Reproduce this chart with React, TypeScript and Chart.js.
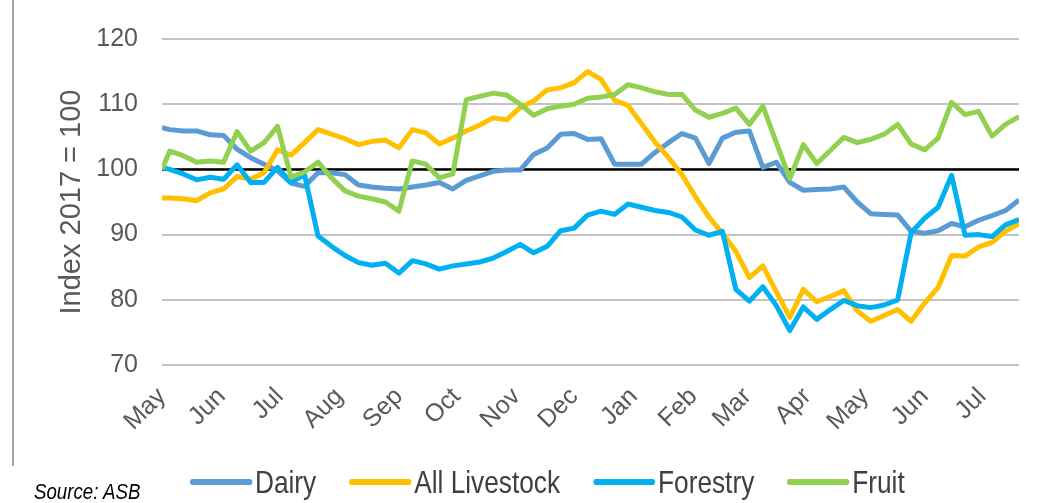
import React, { useEffect, useRef } from "react";
import { Chart, registerables } from "chart.js";

Chart.register(...registerables);

const weekDates = [
  "2017-05-01", "2017-05-05", "2017-05-12", "2017-05-19", "2017-05-26",
  "2017-06-02", "2017-06-09", "2017-06-16", "2017-06-23", "2017-06-30",
  "2017-07-07", "2017-07-14", "2017-07-21", "2017-07-28",
  "2017-08-04", "2017-08-11", "2017-08-18", "2017-08-25",
  "2017-09-01", "2017-09-08", "2017-09-15", "2017-09-22", "2017-09-29",
  "2017-10-06", "2017-10-13", "2017-10-20", "2017-10-27",
  "2017-11-03", "2017-11-10", "2017-11-17", "2017-11-24",
  "2017-12-01", "2017-12-08", "2017-12-15", "2017-12-22", "2017-12-29",
  "2018-01-05", "2018-01-12", "2018-01-19", "2018-01-26",
  "2018-02-02", "2018-02-09", "2018-02-16", "2018-02-23",
  "2018-03-02", "2018-03-09", "2018-03-16", "2018-03-23", "2018-03-30",
  "2018-04-06", "2018-04-13", "2018-04-20", "2018-04-27",
  "2018-05-04", "2018-05-11", "2018-05-18", "2018-05-25",
  "2018-06-01", "2018-06-08", "2018-06-15", "2018-06-22", "2018-06-29",
  "2018-07-06", "2018-07-13", "2018-07-20",
];

const dairy = [
  106.4, 106.1, 105.9, 105.9, 105.3, 105.2, 103.1, 101.8, 100.8, 99.8,
  97.9, 97.4, 99.5, 99.5, 99.2, 97.6, 97.3, 97.1, 97.0, 97.3,
  97.6, 98.0, 97.0, 98.3, 99.0, 99.7, 99.9, 99.9, 102.3, 103.3,
  105.4, 105.5, 104.6, 104.7, 100.8, 100.8, 100.8, 102.6, 104.1, 105.5,
  104.8, 100.9, 104.8, 105.7, 105.9, 100.3, 101.1, 98.0, 96.8, 96.9,
  97.0, 97.3, 95.0, 93.2, 93.1, 93.0, 90.5, 90.2, 90.6, 91.7,
  91.2, 92.2, 92.9, 93.7, 95.3,
];

const allLivestock = [
  95.6, 95.6, 95.5, 95.2, 96.4, 97.0, 98.9, 98.5, 99.5, 103.0,
  102.2, 104.1, 106.1, 105.4, 104.7, 103.8, 104.3, 104.5, 103.3, 106.1,
  105.6, 103.9, 104.8, 105.9, 106.8, 107.9, 107.6, 109.5, 110.5, 112.2,
  112.5, 113.3, 115.0, 113.8, 110.6, 109.8, 107.0, 104.2, 101.8, 99.2,
  95.8, 92.7, 90.2, 87.4, 83.4, 85.2, 81.2, 77.3, 81.6, 79.7,
  80.5, 81.4, 78.3, 76.7, 77.6, 78.5, 76.7, 79.5, 81.9, 86.8,
  86.7, 88.1, 88.8, 90.5, 91.7,
];

const forestry = [
  100.3, 100.0, 99.3, 98.4, 98.8, 98.5, 100.7, 98.0, 98.0, 100.3,
  98.0, 99.2, 89.8, 88.2, 86.8, 85.7, 85.3, 85.6, 84.1, 86.0,
  85.5, 84.7, 85.2, 85.5, 85.8, 86.4, 87.4, 88.5, 87.2, 88.2,
  90.6, 91.0, 93.0, 93.6, 93.1, 94.7, 94.2, 93.7, 93.4, 92.7,
  90.7, 89.9, 90.5, 81.6, 79.8, 82.0, 79.1, 75.3, 78.9, 77.0,
  78.5, 79.9, 79.1, 78.8, 79.2, 80.0, 90.3, 92.5, 94.2, 99.1,
  89.9, 90.0, 89.7, 91.5, 92.3,
];

const fruit = [
  100.0, 102.8, 102.1, 101.1, 101.3, 101.1, 105.8, 102.8, 104.1, 106.6,
  98.8, 99.6, 101.1, 98.7, 96.7, 95.9, 95.5, 95.0, 93.6, 101.3,
  100.8, 98.7, 99.3, 110.7, 111.2, 111.7, 111.4, 110.0, 108.3, 109.3,
  109.7, 110.0, 110.9, 111.1, 111.5, 113.0, 112.5, 111.9, 111.5, 111.5,
  109.1, 108.0, 108.6, 109.4, 106.9, 109.7, 104.1, 98.6, 103.8, 100.9,
  102.9, 104.9, 104.1, 104.6, 105.4, 106.9, 103.9, 103.0, 104.8, 110.3,
  108.4, 108.9, 105.1, 106.9, 108.1,
];

const baselineValue = 100;

const monthTicks = [
  "2017-05-01", "2017-06-01", "2017-07-01", "2017-08-01", "2017-09-01",
  "2017-10-01", "2017-11-01", "2017-12-01", "2018-01-01", "2018-02-01",
  "2018-03-01", "2018-04-01", "2018-05-01", "2018-06-01", "2018-07-01",
];
const monthLabels = [
  "May", "Jun", "Jul", "Aug", "Sep", "Oct", "Nov", "Dec",
  "Jan", "Feb", "Mar", "Apr", "May", "Jun", "Jul",
];

const yTicks = [70, 80, 90, 100, 110, 120];
const yTitle = "Index 2017 = 100";
const sourceNote = "Source: ASB";

const seriesNames = ["Dairy", "All Livestock", "Forestry", "Fruit"];
const seriesColors = ["#5B9BD5", "#FFC000", "#00B0F0", "#92D050"];
const seriesValues = [dairy, allLivestock, forestry, fruit];

const DAY_MS = 86400000;
const originMs = Date.parse(weekDates[0]);
const toDay = (s: string) => (Date.parse(s) - originMs) / DAY_MS;

const REGULAR = "'Liberation Sans', Arial, sans-serif";
const CONDENSE = 0.82;

export default function App() {
  const canvasRef = useRef<HTMLCanvasElement | null>(null);

  useEffect(() => {
    const canvas = canvasRef.current;
    if (!canvas) return;
    const lastDay = toDay(weekDates[weekDates.length - 1]);
    const tickDays = monthTicks.map(toDay);

    const datasets: any[] = seriesNames.map((name, si) => ({
      label: name,
      data: seriesValues[si].map((v, i) => ({ x: toDay(weekDates[i]), y: v })),
      borderColor: seriesColors[si],
      backgroundColor: seriesColors[si],
      borderWidth: 5,
      pointRadius: 0,
      tension: 0,
      borderJoinStyle: "round",
      borderCapStyle: "butt",
      order: seriesNames.length - si,
    }));
    datasets.push({
      label: "baseline",
      data: [
        { x: 0, y: baselineValue },
        { x: lastDay, y: baselineValue },
      ],
      borderColor: "#000000",
      borderWidth: 2.5,
      pointRadius: 0,
      order: 10,
    });

    const chart = new Chart(canvas, {
      type: "line",
      data: { datasets },
      options: {
        animation: false,
        responsive: false,
        maintainAspectRatio: false,
        layout: { padding: { top: 35, right: 21, bottom: 0, left: 0 } },
        plugins: { legend: { display: false }, tooltip: { enabled: false } },
        scales: {
          x: {
            type: "linear",
            min: 0,
            max: lastDay,
            grid: { display: false },
            border: { display: false },
            afterBuildTicks: (s: any) => {
              s.ticks = tickDays.map((v) => ({ value: v }));
            },
            afterFit: (s: any) => {
              s.height = 138;
            },
            ticks: {
              autoSkip: false,
              minRotation: 45,
              maxRotation: 45,
              padding: 9,
              color: "#595959",
              font: { family: REGULAR, size: 25 },
              callback: (_v: any, i: number) => monthLabels[i],
            },
          },
          y: {
            min: 70,
            max: 120,
            afterBuildTicks: (s: any) => {
              s.ticks = yTicks.map((v) => ({ value: v }));
            },
            afterFit: (s: any) => {
              s.width = 162;
            },
            grid: { color: "#c4c4c4", lineWidth: 2, drawTicks: false },
            border: { display: false },
            ticks: {
              padding: 24,
              color: "#595959",
              font: { family: REGULAR, size: 25 },
            },
            title: {
              display: true,
              text: yTitle,
              color: "#595959",
              font: { family: REGULAR, size: 29 },
              padding: { top: 55, bottom: 0 },
            },
          },
        },
      },
    });
    return () => chart.destroy();
  }, []);

  return (
    <div
      style={{
        position: "fixed",
        left: 0,
        top: 0,
        width: 1040,
        height: 503,
        background: "#ffffff",
        overflow: "hidden",
      }}
    >
      <canvas ref={canvasRef} width={1040} height={503} style={{ display: "block" }} />
      <div
        style={{
          position: "absolute",
          left: 12,
          top: 0,
          width: 0,
          height: 466,
          borderLeft: "2px solid #a6a6a6",
        }}
      />
      <div
        style={{
          position: "absolute",
          left: 190,
          top: 463,
          height: 38,
          display: "flex",
          alignItems: "center",
          fontFamily: REGULAR,
          fontSize: 32,
          color: "#404040",
          whiteSpace: "nowrap",
          transform: `scaleX(${CONDENSE})`,
          transformOrigin: "left center",
        }}
      >
        {seriesNames.map((name, i) => (
          <div
            key={name}
            style={{ display: "flex", alignItems: "center", marginRight: 33 / CONDENSE }}
          >
            <span
              style={{
                display: "inline-block",
                width: 62 / CONDENSE,
                height: 6,
                borderRadius: 3,
                background: seriesColors[i],
                marginRight: 3 / CONDENSE,
              }}
            />
            <span>{name}</span>
          </div>
        ))}
      </div>
      <div
        style={{
          position: "absolute",
          left: 34,
          top: 479,
          fontFamily: REGULAR,
          fontStyle: "italic",
          fontSize: 22,
          color: "#000000",
          whiteSpace: "nowrap",
          transform: "scaleX(0.85)",
          transformOrigin: "left center",
        }}
      >
        {sourceNote}
      </div>
    </div>
  );
}
